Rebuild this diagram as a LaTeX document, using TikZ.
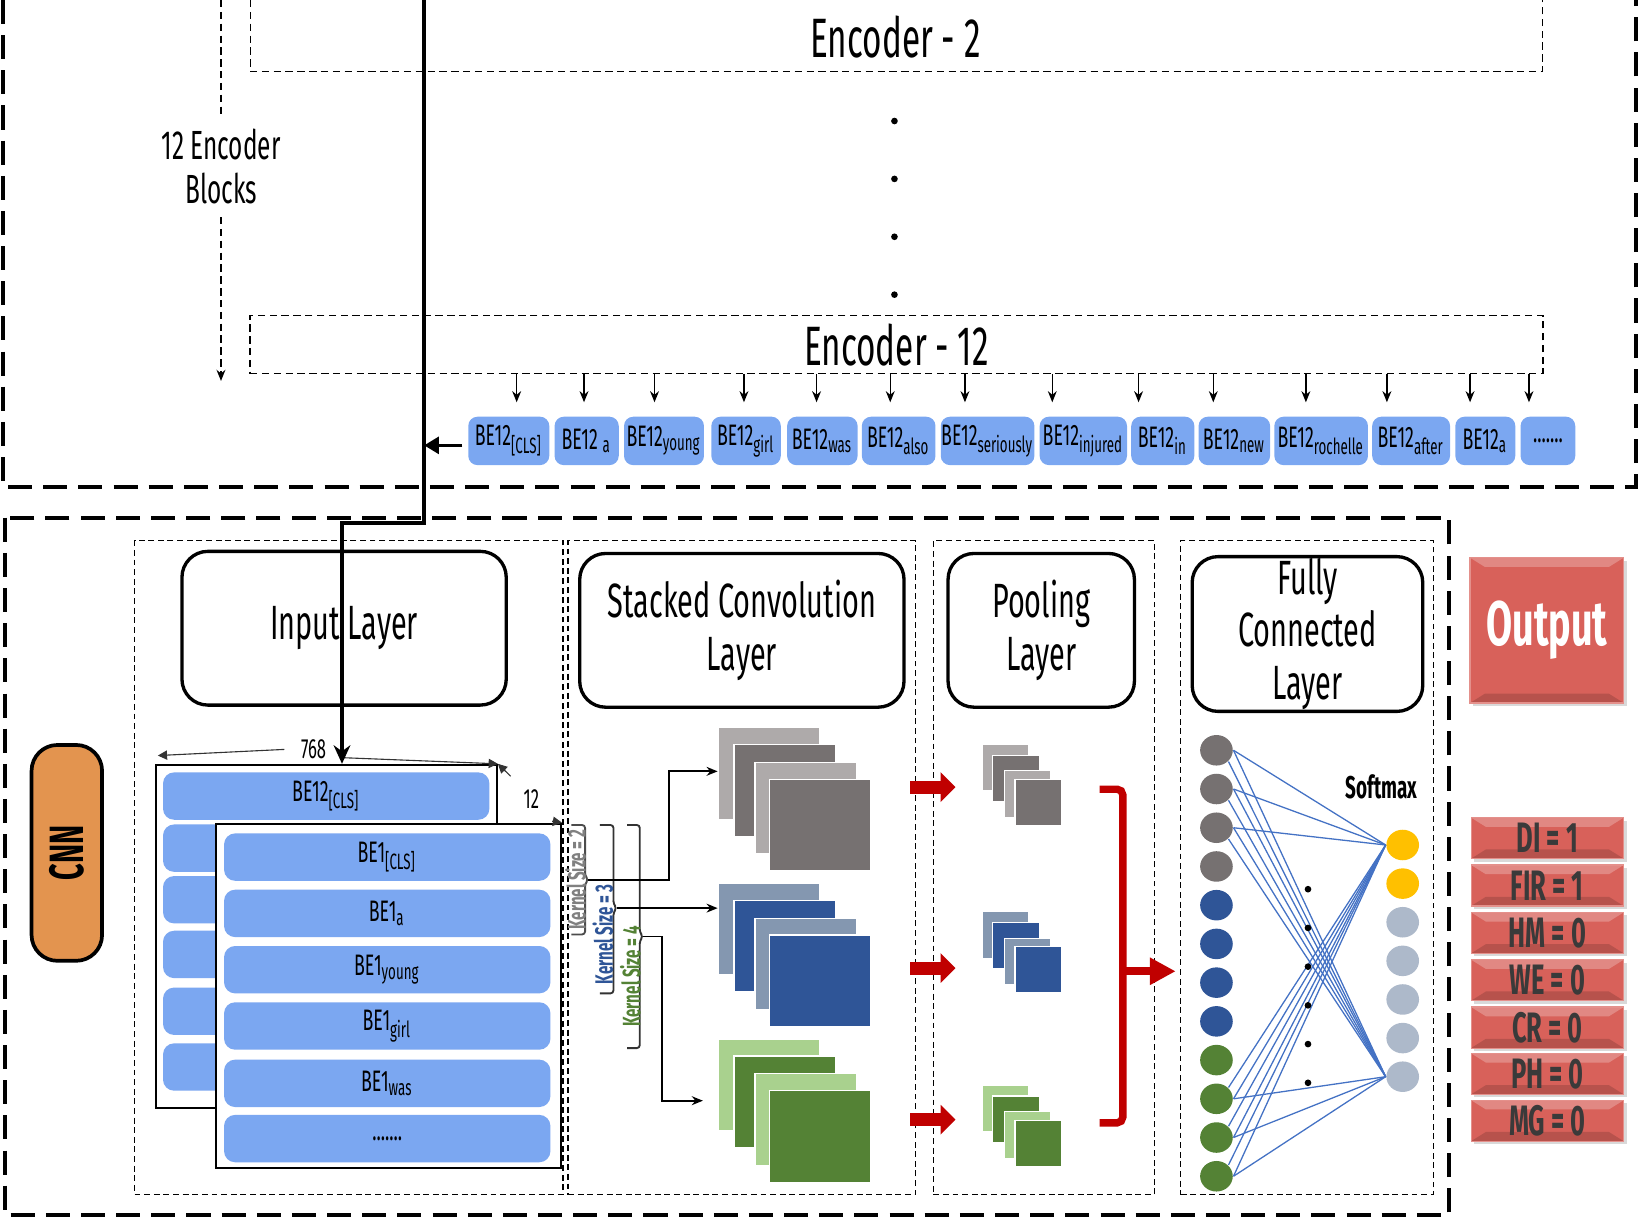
\documentclass[tikz,border=0pt]{standalone}
\usepackage{fontspec}
\setmainfont{Fira Sans}[FakeStretch=0.6]
\usetikzlibrary{positioning,arrows.meta,shapes.geometric,shadows}

\definecolor{tokblue}{HTML}{7BA7F1}
\definecolor{grayL}{HTML}{AEAAAA}
\definecolor{grayD}{HTML}{767171}
\definecolor{blueL}{HTML}{8497B0}
\definecolor{blueD}{HTML}{2F5597}
\definecolor{greenL}{HTML}{A9D18E}
\definecolor{greenD}{HTML}{548235}
\definecolor{gold}{HTML}{FFC000}
\definecolor{paleblue}{HTML}{ADB9CA}
\definecolor{linkblue}{HTML}{4472C4}
\definecolor{cnnorange}{HTML}{E3944F}
\definecolor{outred}{HTML}{D8615A}
\definecolor{arrred}{HTML}{C00000}
\definecolor{btntext}{HTML}{3A3A3A}

\newcommand\moredots{.......}

\tikzset{
  bigdash/.style={line width=1.1pt, dash pattern=on 6.5pt off 3pt},
  encdash/.style={line width=0.4pt, dash pattern=on 2pt off 1.2pt},
  secdash/.style={draw, line width=0.4pt, dash pattern=on 1.6pt off 1pt, minimum height=6.21cm, inner sep=0pt},
  enctext/.style={font=\fontsize{15}{16}\selectfont},
  layer/.style={draw, line width=0.9pt, rounded corners=7pt, fill=white, align=center, inner sep=0pt,
    minimum height=1.46cm, font=\fontsize{13}{14.2}\selectfont},
  tok/.style={fill=tokblue, rounded corners=2.5pt, minimum height=0.46cm, inner sep=0pt, font=\fontsize{8}{9}\selectfont},
  bar/.style={fill=tokblue, rounded corners=3pt, minimum width=3.1cm, minimum height=0.45cm, inner sep=0pt, font=\fontsize{8}{9}\selectfont},
  sheet/.style={draw, fill=white, line width=0.6pt, inner sep=0pt},
  tokarr/.style={-{Stealth[length=3pt,width=2.4pt]}, line width=0.4pt},
  thinarr/.style={-{Stealth[length=3pt,width=2.4pt]}, line width=0.5pt},
  dimarr/.style={-{Triangle[length=2.5pt,width=2.5pt]}, line width=0.3pt, black!80},
  fmap/.style={draw=white, line width=0.3pt, minimum width=0.96cm, minimum height=0.87cm, inner sep=0pt, anchor=north west},
  pmap/.style={draw=white, line width=0.3pt, minimum size=0.44cm, inner sep=0pt, anchor=north west},
  redarr/.style={arrred, line width=3.5pt, -{Triangle[length=4pt,width=7.8pt]}},
  neuron/.style={ellipse, minimum width=0.31cm, minimum height=0.29cm, inner sep=0pt},
  link/.style={linkblue, line width=0.35pt},
  kbrace/.style={line width=0.5pt, rounded corners=0.8pt},
  klabel/.style={rotate=90, inner sep=0pt, font=\bfseries\fontsize{6.8}{7}\selectfont},
  btn/.style={fill=outred, draw=outred!70!white, line width=0.3pt, inner sep=0pt,
    drop shadow={opacity=0.3, shadow xshift=0.8pt, shadow yshift=-0.8pt},
    path picture={
      \fill[white, opacity=0.25] (path picture bounding box.north west) -- (path picture bounding box.north east)
        -- ([xshift=-4pt,yshift=-2.5pt]path picture bounding box.north east) -- ([xshift=4pt,yshift=-2.5pt]path picture bounding box.north west) -- cycle;
      \fill[black, opacity=0.15] (path picture bounding box.south west) -- (path picture bounding box.south east)
        -- ([xshift=-4pt,yshift=2.5pt]path picture bounding box.south east) -- ([xshift=4pt,yshift=2.5pt]path picture bounding box.south west) -- cycle;
    }},
}

\begin{document}
\begin{tikzpicture}[x=0.01cm, y=-0.01cm]
\useasboundingbox (0,0) rectangle (1568,1157);

% ---- BERT encoder part
\draw[bigdash] (3,0) -- (3,463) -- (1555,463) -- (1555,0);
\draw[encdash] (238,0) -- (238,68) -- (1466,68) -- (1466,0);
\node[enctext] (enc2) at (851,35) {Encoder - 2};
\foreach \y in {115,170,225,280}
  \fill (850,\y) circle (0.9pt);
\node[draw, encdash, enctext, minimum width=12.28cm, minimum height=0.55cm, inner sep=0pt] (enc12) at (852,327.5) {Encoder - 12};

\node[align=center, font=\fontsize{11}{12}\selectfont] (blk) at (210,158) {12 Encoder\\Blocks};
\draw[encdash] (210,0) -- (blk.north);
\draw[encdash, -{Stealth[length=3pt,width=2.4pt]}] (blk.south) -- (210,362);

% last encoder outputs
\foreach \n/\xa/\xb/\ax/\lab in {
  1/445/522/491/BE12\textsubscript{[CLS]},
  2/527/588/555/BE12 \textsubscript{a},
  3/593/669/622/BE12\textsubscript{young},
  4/676/742/707/BE12\textsubscript{girl},
  5/748/815/776/BE12\textsubscript{was},
  6/819/889/846/BE12\textsubscript{also},
  7/894/983/917/BE12\textsubscript{seriously},
  8/988/1071/1000/BE12\textsubscript{injured},
  9/1075/1135/1082/BE12\textsubscript{in},
  10/1139/1207/1153/BE12\textsubscript{new},
  11/1211/1300/1241/BE12\textsubscript{rochelle},
  12/1304/1378/1318/BE12\textsubscript{after},
  13/1383/1440/1397/BE12\textsubscript{a},
  14/1445/1497/1453/\moredots}
{
  \node[tok, minimum width={(\xb-\xa)*0.01cm}] (t\n) at ({(\xa+\xb)/2},419) {\lab};
  \draw[tokarr, shorten >=0.13cm] (enc12.south -| \ax,0) -- (t\n.north -| \ax,0);
}
\draw[line width=1pt, -{Triangle[length=4pt,width=4.5pt]}, shorten <=0.05cm] ([yshift=-1.2pt]t1.west) -- ([yshift=-1.2pt]t1.west -| 403,0);

% ---- CNN part
\draw[bigdash] (5,492) rectangle (1377,1155);
\node[draw, fill=cnnorange, line width=1pt, rounded corners=7pt, rotate=90, minimum width=2.05cm, minimum height=0.67cm,
  font=\bfseries\fontsize{13}{14}\selectfont] (cnn) at (63.5,810.5) {CNN};

\node[secdash, minimum width=4.07cm] (secI) at (331.5,824.5) {};
\node[secdash, minimum width=3.30cm] (secC) at (705,824.5) {};
\node[secdash, minimum width=2.10cm] (secP) at (992,824.5) {};
\node[secdash, minimum width=2.40cm] (secF) at (1242,824.5) {};

\node[layer, minimum width=3.08cm] (layI) at (327,597) {Input Layer};
\node[layer, minimum width=3.08cm] (layC) at (705,599) {Stacked Convolution\\Layer};
\node[layer, minimum width=1.77cm] (layP) at (989.5,599) {Pooling\\Layer};
\node[layer, minimum width=2.19cm, minimum height=1.47cm] (layF) at (1242.5,602.5) {Fully\\Connected\\Layer};

% input embeddings
\node[sheet, minimum width=3.24cm, minimum height=3.26cm] (sheetB) at (310,890) {};
\node[bar] (bb0) at (310,756.5) {BE12\textsubscript{[CLS]}};
\foreach \i/\y in {1/806,2/855,3/907,4/961,5/1014}
  \node[bar] (bb\i) at (310,\y) {};
\node[sheet, minimum width=3.28cm, minimum height=3.27cm] (sheetF) at (369,946.5) {};
\foreach \i/\y/\lab in {0/814.5/BE1\textsubscript{[CLS]}, 1/868/BE1\textsubscript{a}, 2/921.5/BE1\textsubscript{young},
  3/975/BE1\textsubscript{girl}, 4/1029.5/BE1\textsubscript{was}, 5/1082/\moredots}
  \node[bar] (fb\i) at (368,\y) {\lab};

\node[font=\fontsize{7.5}{8}\selectfont] (d768) at (298,712) {768};
\draw[dimarr, shorten <=1pt] (d768.west) -- (150,718);
\draw[dimarr] (325,720) -- (sheetB.north east);
\node[font=\fontsize{7.5}{8}\selectfont] (d12) at (505,759) {12};
\draw[dimarr] (d12.north west) -- (sheetB.north east);
\draw[dimarr] (d12.south east) -- (sheetF.north east);

\draw[line width=1pt, -{Stealth[length=5pt,width=4.5pt]}] (403,0) |- (325,497) -- (sheetB.north -| 325,0);

% kernel braces
\draw[kbrace, black!70] (543,784) -- (556,784) -- (556,832) -- (559,836) -- (556,840) -- (556,888) -- (543,888);
\draw[kbrace, black!80] (570,784) -- (583,784) -- (583,859) -- (586,863) -- (583,867) -- (583,944) -- (570,944);
\draw[kbrace, black!80] (596,784) -- (608,784) -- (608,886) -- (611,890) -- (608,894) -- (608,996) -- (596,996);
\coordinate (k2) at (559,836);
\coordinate (k3) at (586,863);
\coordinate (k4) at (611,890);
\node[klabel, text=black!50] (lab2) at (547,836) {Kernel Size = 2};
\node[klabel, text=blueD] (lab3) at (573,888) {Kernel Size = 3};
\node[klabel, text=greenD] (lab4) at (599,928) {Kernel Size = 4};

% feature maps
\foreach \s/\y/\cl/\cd in {g/691/grayL/grayD, b/839/blueL/blueD, n/987/greenL/greenD}
{
  \node[fmap, fill=\cl] (c\s1) at (682,\y) {};
  \node[fmap, fill=\cd] (c\s2) at (697,{\y+16}) {};
  \node[fmap, fill=\cl] (c\s3) at (717,{\y+33}) {};
  \node[fmap, fill=\cd] (c\s4) at (731,{\y+49}) {};
}
\foreach \s/\y/\cl/\cd in {g/707/grayL/grayD, b/866/blueL/blueD, n/1031/greenL/greenD}
{
  \node[pmap, fill=\cl] (p\s1) at (933,\y) {};
  \node[pmap, fill=\cd] (p\s2) at (943,{\y+10}) {};
  \node[pmap, fill=\cl] (p\s3) at (954,{\y+25}) {};
  \node[pmap, fill=\cd] (p\s4) at (964,{\y+33}) {};
}
\draw[thinarr] (k2) -| (636,733) -- (cg1.west |- 0,733);
\draw[thinarr] (k3) -- (cb1.west |- k3);
\draw[thinarr, shorten >=0.14cm] (k4) -| (629,1046) -- (cn1.west |- 0,1046);

\foreach \s/\ry in {g/748, b/920, n/1064}
  \draw[redarr, shorten <=0.37cm, shorten >=0.25cm] (c\s4.east |- 0,\ry) -- (p\s1.west |- 0,\ry);

\draw[arrred, line width=2pt, rounded corners=1.5pt] (1045,750) -- (1067,750) -- (1067,1067) -- (1045,1067);
\coordinate (brk) at (1067,923);
\draw[arrred, line width=2.2pt, -{Triangle[length=7pt,width=7pt]}, shorten >=0.04cm] (brk) -- (secF.west |- brk);

% fully connected
\foreach \i/\c in {0/grayD,1/grayD,2/grayD,3/grayD,4/blueD,5/blueD,6/blueD,7/blueD,8/greenD,9/greenD,10/greenD,11/greenD}
  \node[neuron, fill=\c] (l\i) at (1156,{713+36.8*\i}) {};
\foreach \i/\c in {0/gold,1/gold,2/paleblue,3/paleblue,4/paleblue,5/paleblue,6/paleblue}
  \node[neuron, fill=\c] (r\i) at (1333,{803+36.7*\i}) {};
\foreach \a in {0,6}
  \foreach \b in {0,1,2,9,10,11}
    \draw[link] (r\a.west) -- (l\b.east);
\foreach \b in {9,10,11}
  \draw[link] (r0.west) -- (l\b.north east);
\foreach \b in {0,1,2}
  \draw[link] (r6.west) -- (l\b.south east);
\foreach \i in {0,1,2,3,4,5}
  \fill (1243,{845+36.8*\i}) circle (0.9pt);
\node[font=\bfseries\fontsize{8.5}{9}\selectfont] (smax) at (1313,748) {Softmax};

% output
\node[btn, minimum width=1.46cm, minimum height=1.38cm, text=white, font=\bfseries\fontsize{17}{18}\selectfont] (out) at (1470,599) {Output};
\foreach \i/\y/\lab in {1/796.5/DI = 1, 2/841.5/FIR = 1, 3/886.5/HM = 0, 4/931.5/WE = 0, 5/976.5/CR = 0, 6/1020.5/PH = 0, 7/1065/MG = 0}
  \node[btn, minimum width=1.45cm, minimum height=0.39cm, text=btntext, font=\bfseries\fontsize{11.5}{12}\selectfont] (o\i) at (1470.5,\y) {\lab};
\end{tikzpicture}
\end{document}
